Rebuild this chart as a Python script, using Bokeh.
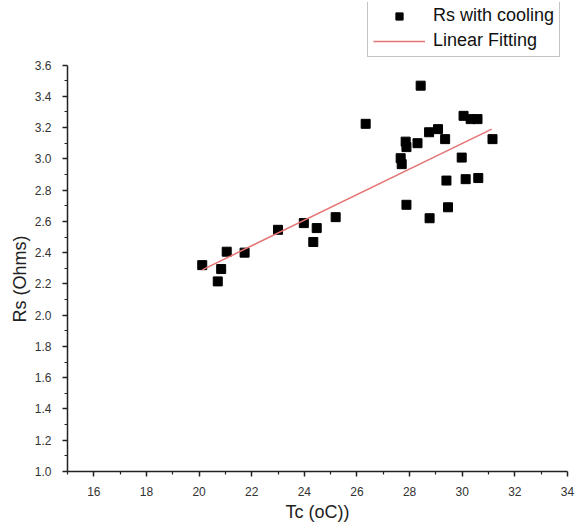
from bokeh.plotting import figure
from bokeh.models import (Range1d, Legend, LegendItem, FixedTicker,
                          PrintfTickFormatter, ColumnDataSource, Title)
from bokeh.embed import file_html
from bokeh.resources import INLINE

# ---- data ----
tc = [20.12, 20.84, 20.71, 21.05, 21.73, 23.00, 23.98, 24.47, 24.34, 25.19,
      26.33, 28.42, 27.85, 27.88, 28.30, 27.66, 27.70, 28.74, 29.08, 29.35,
      30.05, 30.32, 30.58, 31.15, 29.98, 29.40, 30.13, 30.61, 27.88, 28.76,
      29.46]
rs = [2.32, 2.295, 2.216, 2.406, 2.40, 2.546, 2.589, 2.557, 2.468, 2.627,
      3.224, 3.468, 3.11, 3.075, 3.10, 3.004, 2.966, 3.17, 3.19, 3.126,
      3.275, 3.254, 3.254, 3.126, 3.008, 2.861, 2.87, 2.877, 2.706, 2.62,
      2.69]
fit_x = [20.12, 31.12]
fit_y = [2.29, 3.19]

x_ticks = [16, 18, 20, 22, 24, 26, 28, 30, 32, 34]
y_ticks = [1.0, 1.2, 1.4, 1.6, 1.8, 2.0, 2.2, 2.4, 2.6, 2.8, 3.0, 3.2, 3.4, 3.6]
x_label = "Tc (oC))"
y_label = "Rs (Ohms)"
series_labels = ["Rs with cooling", "Linear Fitting"]

FONT = "Liberation Sans"

# frame extends above 3.6 so the legend can sit there; the y axis stops at 3.6
p = figure(width=578, height=524,
           x_range=Range1d(15, 34), y_range=Range1d(1.0, 4.0),
           output_backend="svg", toolbar_location=None,
           min_border_left=67, min_border_right=11,
           min_border_top=2, min_border_bottom=52)
p.grid.visible = False
p.outline_line_color = None
p.background_fill_color = "white"

src = ColumnDataSource(dict(x=tc, y=rs))
r1 = p.scatter("x", "y", source=src, marker="square", size=9,
               fill_color="black", line_color="black")
r2 = p.line(fit_x, fit_y, line_color="#e57373", line_width=1.5)

x_minor = [x_ticks[0] - 1] + [t + 1 for t in x_ticks[:-1]]
y_minor = [round(t + 0.1, 2) for t in y_ticks[:-1]]
p.xaxis.ticker = FixedTicker(ticks=x_ticks, minor_ticks=x_minor)
p.yaxis.ticker = FixedTicker(ticks=y_ticks, minor_ticks=y_minor)
p.yaxis.formatter = PrintfTickFormatter(format="%.1f")
p.yaxis.bounds = (y_ticks[0], y_ticks[-1])
p.xaxis.axis_label = x_label

for ax in (p.xaxis[0], p.yaxis[0]):
    ax.axis_line_color = "#222222"
    ax.axis_line_width = 1.5
    ax.major_tick_line_color = "#222222"
    ax.major_tick_line_width = 1.5
    ax.minor_tick_line_color = "#222222"
    ax.minor_tick_line_width = 1.2
    ax.major_tick_out = 5
    ax.major_tick_in = 0
    ax.minor_tick_out = 3
    ax.minor_tick_in = 0
    ax.major_label_text_font = FONT
    ax.major_label_text_font_size = "12px"
    ax.major_label_text_color = "#333333"
    ax.axis_label_text_font = FONT
    ax.axis_label_text_font_size = "18px"
    ax.axis_label_text_font_style = "normal"
    ax.axis_label_text_color = "#222222"
p.xaxis.major_label_standoff = 10
p.xaxis.axis_label_standoff = 3
p.yaxis.major_label_standoff = 11

# y-axis title as a side title, placed along the axis like the reference
ytitle = Title(text=y_label, align="left", offset=149, standoff=4,
               text_font=FONT, text_font_size="18px",
               text_font_style="normal", text_color="#222222")
p.add_layout(ytitle, "left")

legend = Legend(items=[LegendItem(label=series_labels[0], renderers=[r1]),
                       LegendItem(label=series_labels[1], renderers=[r2])],
                location=(300, 414))
legend.label_text_font = FONT
legend.label_text_font_size = "18px"
legend.label_text_color = "#111111"
legend.label_height = 18
legend.glyph_height = 18
legend.glyph_width = 52
legend.label_standoff = 8
legend.spacing = 4
legend.padding = 5
legend.margin = 0
legend.border_line_color = "#888888"
legend.border_line_width = 1.2
legend.background_fill_alpha = 1.0
p.add_layout(legend, "center")

open("out.html", "w").write(file_html(p, INLINE))
